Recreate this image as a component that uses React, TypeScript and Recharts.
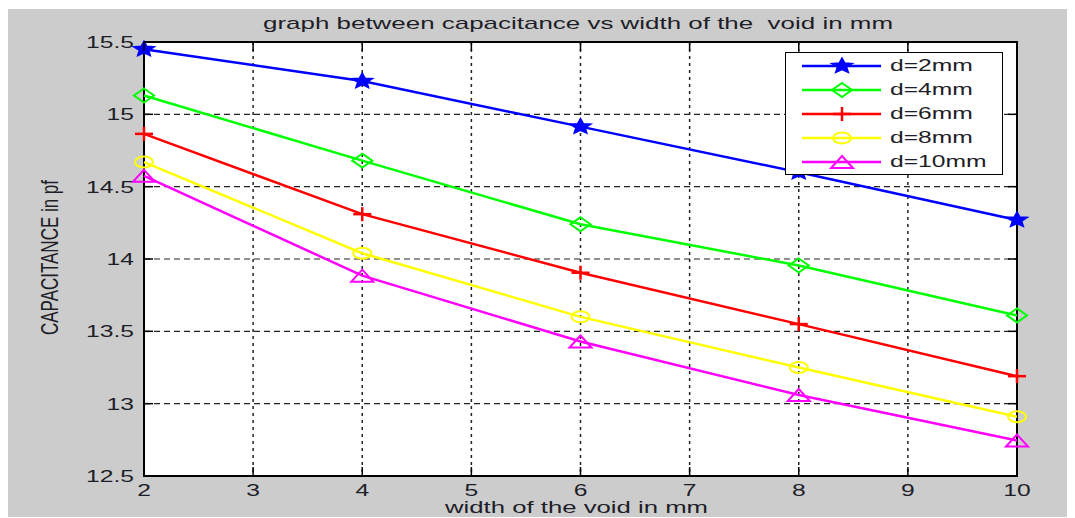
import { LineChart, Line, XAxis, YAxis, CartesianGrid, Legend, ReferenceArea } from 'recharts';

// void width (mm) on the x axis
const widths = [2, 4, 6, 8, 10];
// capacitance (pF) for each void depth
const capD2 = [15.45, 15.23, 14.915, 14.6, 14.27];
const capD4 = [15.13, 14.68, 14.24, 13.955, 13.61];
const capD6 = [14.865, 14.31, 13.905, 13.55, 13.19];
const capD8 = [14.67, 14.04, 13.6, 13.25, 12.91];
const capD10 = [14.575, 13.885, 13.43, 13.06, 12.745];

const xTicks = [2, 3, 4, 5, 6, 7, 8, 9, 10];
const yTicks = [12.5, 13, 13.5, 14, 14.5, 15, 15.5];

const rows = widths.map((w, i) => ({
  w,
  d2: capD2[i],
  d4: capD4[i],
  d6: capD6[i],
  d8: capD8[i],
  d10: capD10[i],
}));

type MarkerKind = 'star' | 'diamond' | 'plus' | 'circle' | 'triangle';

const series: { key: string; name: string; color: string; marker: MarkerKind }[] = [
  { key: 'd2', name: 'd=2mm', color: '#0000ff', marker: 'star' },
  { key: 'd4', name: 'd=4mm', color: '#00ff00', marker: 'diamond' },
  { key: 'd6', name: 'd=6mm', color: '#ff0000', marker: 'plus' },
  { key: 'd8', name: 'd=8mm', color: '#ffff00', marker: 'circle' },
  { key: 'd10', name: 'd=10mm', color: '#ff00ff', marker: 'triangle' },
];

const W = 1068;
const H = 509;
const PLOT = { left: 137, right: 1010, top: 33, bottom: 467 };
const SX = 1.45; // wide glyphs, like the old figure export
const FONT = '"Liberation Sans", Arial, sans-serif';
const INK = '#1e1e28';
const TICK = 9;

function Marker({ kind, cx, cy, color }: { kind: MarkerKind; cx: number; cy: number; color: string }) {
  if (kind === 'star') {
    const pts: string[] = [];
    for (let k = 0; k < 10; k++) {
      const a = ((-90 + k * 36) * Math.PI) / 180;
      const r = k % 2 === 0 ? 8 : 3.6;
      pts.push(`${cx + r * Math.cos(a) * 1.35},${cy + r * Math.sin(a)}`);
    }
    return <polygon points={pts.join(' ')} fill={color} stroke={color} strokeWidth={1.5} />;
  }
  if (kind === 'diamond') {
    return (
      <polygon
        points={`${cx},${cy - 7} ${cx + 10},${cy} ${cx},${cy + 7} ${cx - 10},${cy}`}
        fill="none"
        stroke={color}
        strokeWidth={2}
      />
    );
  }
  if (kind === 'plus') {
    return (
      <g stroke={color} strokeWidth={2.5}>
        <line x1={cx - 9} x2={cx + 9} y1={cy} y2={cy} />
        <line x1={cx} x2={cx} y1={cy - 7} y2={cy + 7} />
      </g>
    );
  }
  if (kind === 'circle') {
    return <ellipse cx={cx} cy={cy} rx={9} ry={5.5} fill="none" stroke={color} strokeWidth={2} />;
  }
  return (
    <polygon
      points={`${cx},${cy - 6} ${cx + 11},${cy + 6} ${cx - 11},${cy + 6}`}
      fill="none"
      stroke={color}
      strokeWidth={2}
    />
  );
}

function XTick(props: any) {
  const { x, payload } = props;
  return (
    <g>
      <line x1={x} x2={x} y1={PLOT.bottom} y2={PLOT.bottom - TICK} stroke="#000" strokeWidth={1.5} />
      <line x1={x} x2={x} y1={PLOT.top} y2={PLOT.top + TICK} stroke="#000" strokeWidth={1.5} />
      <text
        transform={`translate(${x},${PLOT.bottom + 20}) scale(${SX},1)`}
        textAnchor="middle"
        fontFamily={FONT}
        fontSize={17}
        fill={INK}
      >
        {payload.value}
      </text>
    </g>
  );
}

function YTick(props: any) {
  const { y, payload } = props;
  return (
    <g>
      <line x1={PLOT.left} x2={PLOT.left + TICK} y1={y} y2={y} stroke="#000" strokeWidth={1.5} />
      <line x1={PLOT.right - TICK} x2={PLOT.right} y1={y} y2={y} stroke="#000" strokeWidth={1.5} />
      <text
        transform={`translate(${PLOT.left - 10},${y + 6}) scale(${SX},1)`}
        textAnchor="end"
        fontFamily={FONT}
        fontSize={17}
        fill={INK}
      >
        {payload.value}
      </text>
    </g>
  );
}

function LegendBox() {
  return (
    <div
      style={{
        width: 218,
        height: 123,
        boxSizing: 'border-box',
        border: '1px solid #000',
        background: '#fff',
        paddingTop: 1,
      }}
    >
      {series.map((s) => (
        <div key={s.key} style={{ position: 'relative', height: 24 }}>
          <svg width={100} height={24} style={{ position: 'absolute', left: 0, top: 0 }}>
            <line x1={16} x2={95} y1={12} y2={12} stroke={s.color} strokeWidth={2.5} />
            <Marker kind={s.marker} cx={56} cy={12} color={s.color} />
          </svg>
          <span
            style={{
              position: 'absolute',
              left: 104,
              top: 1,
              fontFamily: FONT,
              fontSize: 17,
              lineHeight: '22px',
              color: INK,
              transform: `scaleX(${SX})`,
              transformOrigin: 'left center',
              whiteSpace: 'nowrap',
            }}
          >
            {s.name}
          </span>
        </div>
      ))}
    </div>
  );
}

export default function App() {
  return (
    <div style={{ position: 'relative', left: -1, top: 1, width: W, height: H, background: '#cccccc' }}>
      <LineChart width={W} height={H} data={rows} margin={{ top: PLOT.top, right: W - PLOT.right, bottom: 0, left: 0 }}>
        <CartesianGrid horizontal vertical={false} strokeDasharray="6 4" stroke="#222" strokeWidth={1.2} fill="#fff" />
        <CartesianGrid horizontal={false} vertical strokeDasharray="3 4" stroke="#222" strokeWidth={1.5} />
        <XAxis
          dataKey="w"
          type="number"
          domain={[2, 10]}
          ticks={xTicks}
          interval={0}
          height={H - PLOT.bottom}
          tickLine={false}
          axisLine={false}
          tickSize={0}
          tick={<XTick />}
        />
        <YAxis
          type="number"
          domain={[12.5, 15.5]}
          ticks={yTicks}
          interval={0}
          width={PLOT.left}
          tickLine={false}
          axisLine={false}
          tickSize={0}
          tick={<YTick />}
        />
        <ReferenceArea x1={2} x2={10} y1={12.5} y2={15.5} fill="none" stroke="#000" strokeWidth={2} ifOverflow="visible" />
        {series.map((s) => (
          <Line
            key={s.key}
            dataKey={s.key}
            name={s.name}
            stroke={s.color}
            strokeWidth={2.5}
            isAnimationActive={false}
            dot={(p: any) => <Marker key={`${s.key}-${p.index}`} kind={s.marker} cx={p.cx} cy={p.cy} color={s.color} />}
          />
        ))}
        <Legend
          layout="vertical"
          align="center"
          verticalAlign="middle"
          content={() => <LegendBox />}
          wrapperStyle={{ left: 778, top: 43, width: 218, height: 123 }}
        />
      </LineChart>
      <svg width={W} height={H} style={{ position: 'absolute', left: 0, top: 0, pointerEvents: 'none' }}>
        <text
          x={571}
          y={20}
          textAnchor="middle"
          textLength={630}
          lengthAdjust="spacingAndGlyphs"
          fontFamily={FONT}
          fontSize={17}
          fill={INK}
          style={{ whiteSpace: 'pre' }}
        >
          graph between capacitance vs width of the  void in mm
        </text>
        <text
          x={569.5}
          y={504}
          textAnchor="middle"
          textLength={263}
          lengthAdjust="spacingAndGlyphs"
          fontFamily={FONT}
          fontSize={17}
          fill={INK}
        >
          width of the void in mm
        </text>
        <g transform={`translate(51,248.5) scale(${SX},1) rotate(-90)`}>
          <text x={0} y={0} textAnchor="middle" textLength={155} lengthAdjust="spacingAndGlyphs" fontFamily={FONT} fontSize={17} fill={INK}>
            CAPACITANCE in pf
          </text>
        </g>
      </svg>
    </div>
  );
}
